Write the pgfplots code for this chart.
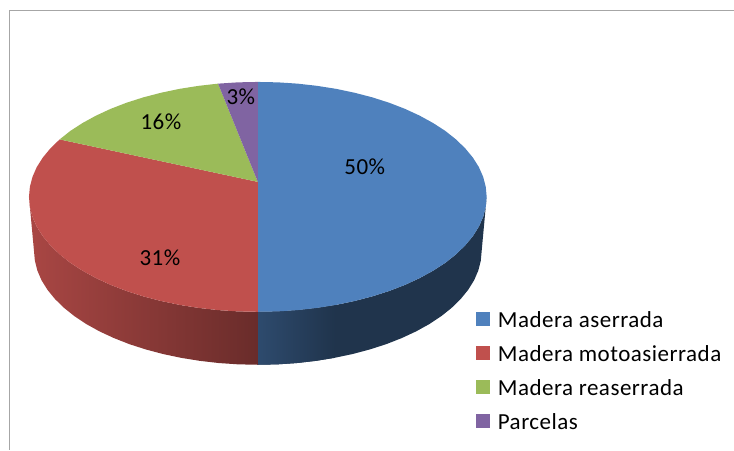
\documentclass[border=0pt]{standalone}
\usepackage{fontspec}
\setmainfont[LetterSpace=2.2]{Carlito}
\usepackage{pgfplots}
\pgfplotsset{compat=1.18}
\definecolor{cblue}{HTML}{4F81BD}
\definecolor{cred}{HTML}{C0504D}
\definecolor{cgreen}{HTML}{9BBB59}
\definecolor{cpurple}{HTML}{8064A2}
\definecolor{framegray}{HTML}{A6A6A6}
\pgfplotsset{
  swatch/.style={legend image code/.code={\fill[##1, draw=none] (0pt,-2pt) rectangle (14pt,12pt); \path (22pt,0pt);}},
}
\begin{document}
\begin{tikzpicture}
\begin{axis}[
    scale only axis, width=734pt, height=450pt,
    xmin=0, xmax=734, ymin=0, ymax=450, y dir=reverse,
    hide axis, clip=false,
    legend style={at={(476/734,138/450)}, anchor=north west, draw=none, fill=none,
      inner sep=0pt, outer sep=0pt, row sep=11pt, font=\fontsize{23}{24}\selectfont,
      nodes={inner sep=0pt, text height=15pt, text depth=7pt, anchor=west}},
    legend cell align=left,
]
% page size
\addplot[draw=none, forget plot] coordinates {(0,0)(734,450)};

% frame
\addplot[framegray, line width=1pt, forget plot] coordinates {(10,450)(10,11)(734,11)};

% side walls
\addplot[draw=none, fill=cblue!40!black, forget plot] coordinates {
(487.0,197.0)(486.1,207.0)(483.5,217.0)(479.2,226.8)(473.2,236.3)(465.5,245.6)(456.3,254.5)(445.6,263.0)(433.4,270.9)(419.9,278.3)(405.2,285.1)(389.4,291.2)(372.5,296.6)(354.8,301.2)(336.3,305.1)(317.3,308.1)(297.8,310.3)(278.0,311.6)(258.0,312.0)
(258.0,365.0)(277.5,364.6)(296.9,363.3)(316.0,361.1)(334.6,358.1)(352.7,354.3)(370.0,349.7)(386.5,344.4)(402.0,338.3)(416.4,331.6)(429.6,324.3)(441.5,316.4)(452.0,308.0)(461.0,299.2)(468.5,290.0)(474.4,280.5)(478.6,270.8)(481.1,260.9)(482.0,251.0)
} -- cycle;
\addplot[draw=none, left color=cblue!58!black, right color=cblue!40!black, forget plot] coordinates {
(336.3,305.1)(317.3,308.1)(297.8,310.3)(278.0,311.6)(258.0,312.0)
(258.0,365.0)(277.5,364.6)(296.9,363.3)(316.0,361.1)(334.6,358.1)
} -- cycle;
\addplot[draw=none, left color=cred!88!black, right color=cred!55!black, forget plot] coordinates {
(258,312)(238.0,311.6)(218.2,310.3)(198.7,308.1)(179.7,305.1)(161.2,301.2)(143.5,296.6)(126.6,291.2)(110.8,285.1)(96.1,278.3)(82.6,270.9)(70.4,263.0)(59.7,254.5)(50.5,245.6)(42.8,236.3)(36.8,226.8)(32.5,217.0)(29.9,207.0)(29,197)
(34.0,251.0)(34.9,260.9)(37.4,270.8)(41.6,280.5)(47.5,290.0)(55.0,299.2)(64.0,308.0)(74.5,316.4)(86.4,324.3)(99.6,331.6)(114.0,338.3)(129.5,344.4)(146.0,349.7)(163.3,354.3)(181.4,358.1)(200.0,361.1)(219.1,363.3)(238.5,364.6)(258,365)
} -- cycle;

% top slices
\addplot[draw=none, fill=cblue, forget plot] coordinates {
(258,182)(258,82)(278.0,82.4)(297.8,83.7)(317.3,85.9)(336.3,88.9)(354.8,92.8)(372.5,97.4)(389.4,102.8)(405.2,108.9)(419.9,115.7)(433.4,123.1)(445.6,131.0)(456.3,139.5)(465.5,148.4)(473.2,157.7)(479.2,167.2)(483.5,177.0)(486.1,187.0)(487,197)
(486.1,207.0)(483.5,217.0)(479.2,226.8)(473.2,236.3)(465.5,245.6)(456.3,254.5)(445.6,263.0)(433.4,270.9)(419.9,278.3)(405.2,285.1)(389.4,291.2)(372.5,296.6)(354.8,301.2)(336.3,305.1)(317.3,308.1)(297.8,310.3)(278.0,311.6)(258.0,312.0)
} -- cycle;
\addplot[draw=none, fill=cred, forget plot] coordinates {
(258,182)(258,312)(238.0,311.6)(218.2,310.3)(198.7,308.1)(179.7,305.1)(161.2,301.2)(143.5,296.6)(126.6,291.2)(110.8,285.1)(96.1,278.3)(82.6,270.9)(70.4,263.0)(59.7,254.5)(50.5,245.6)(42.8,236.3)(36.8,226.8)(32.5,217.0)(29.9,207.0)(29,197)
(29.9,187.0)(32.5,177.0)(36.8,167.2)(42.8,157.7)(50.5,148.4)(59.7,139.5)
} -- cycle;
\addplot[draw=none, fill=cgreen, forget plot] coordinates {
(258,182)(59.7,139.5)(70.4,131.0)(82.6,123.1)(96.1,115.7)(110.8,108.9)(126.6,102.8)(143.5,97.4)(161.2,92.8)(179.7,88.9)(198.7,85.9)(218.2,83.7)
} -- cycle;
\addplot[draw=none, fill=cpurple, forget plot] coordinates {
(258,182)(218.2,83.7)(238.0,82.4)(258,82)
} -- cycle;

% slice labels
\node[font=\fontsize{23}{24}\selectfont] at (axis cs:365,167) {50\%};
\node[font=\fontsize{23}{24}\selectfont] at (axis cs:160,258) {31\%};
\node[font=\fontsize{23}{24}\selectfont] at (axis cs:161,122) {16\%};
\node[font=\fontsize{23}{24}\selectfont] at (axis cs:241,97) {3\%};

% legend
\addlegendimage{swatch, fill=cblue}
\addlegendentry{Madera aserrada}
\addlegendimage{swatch, fill=cred}
\addlegendentry{Madera motoasierrada}
\addlegendimage{swatch, fill=cgreen}
\addlegendentry{Madera reaserrada}
\addlegendimage{swatch, fill=cpurple}
\addlegendentry{Parcelas}
\end{axis}
\end{tikzpicture}
\end{document}
